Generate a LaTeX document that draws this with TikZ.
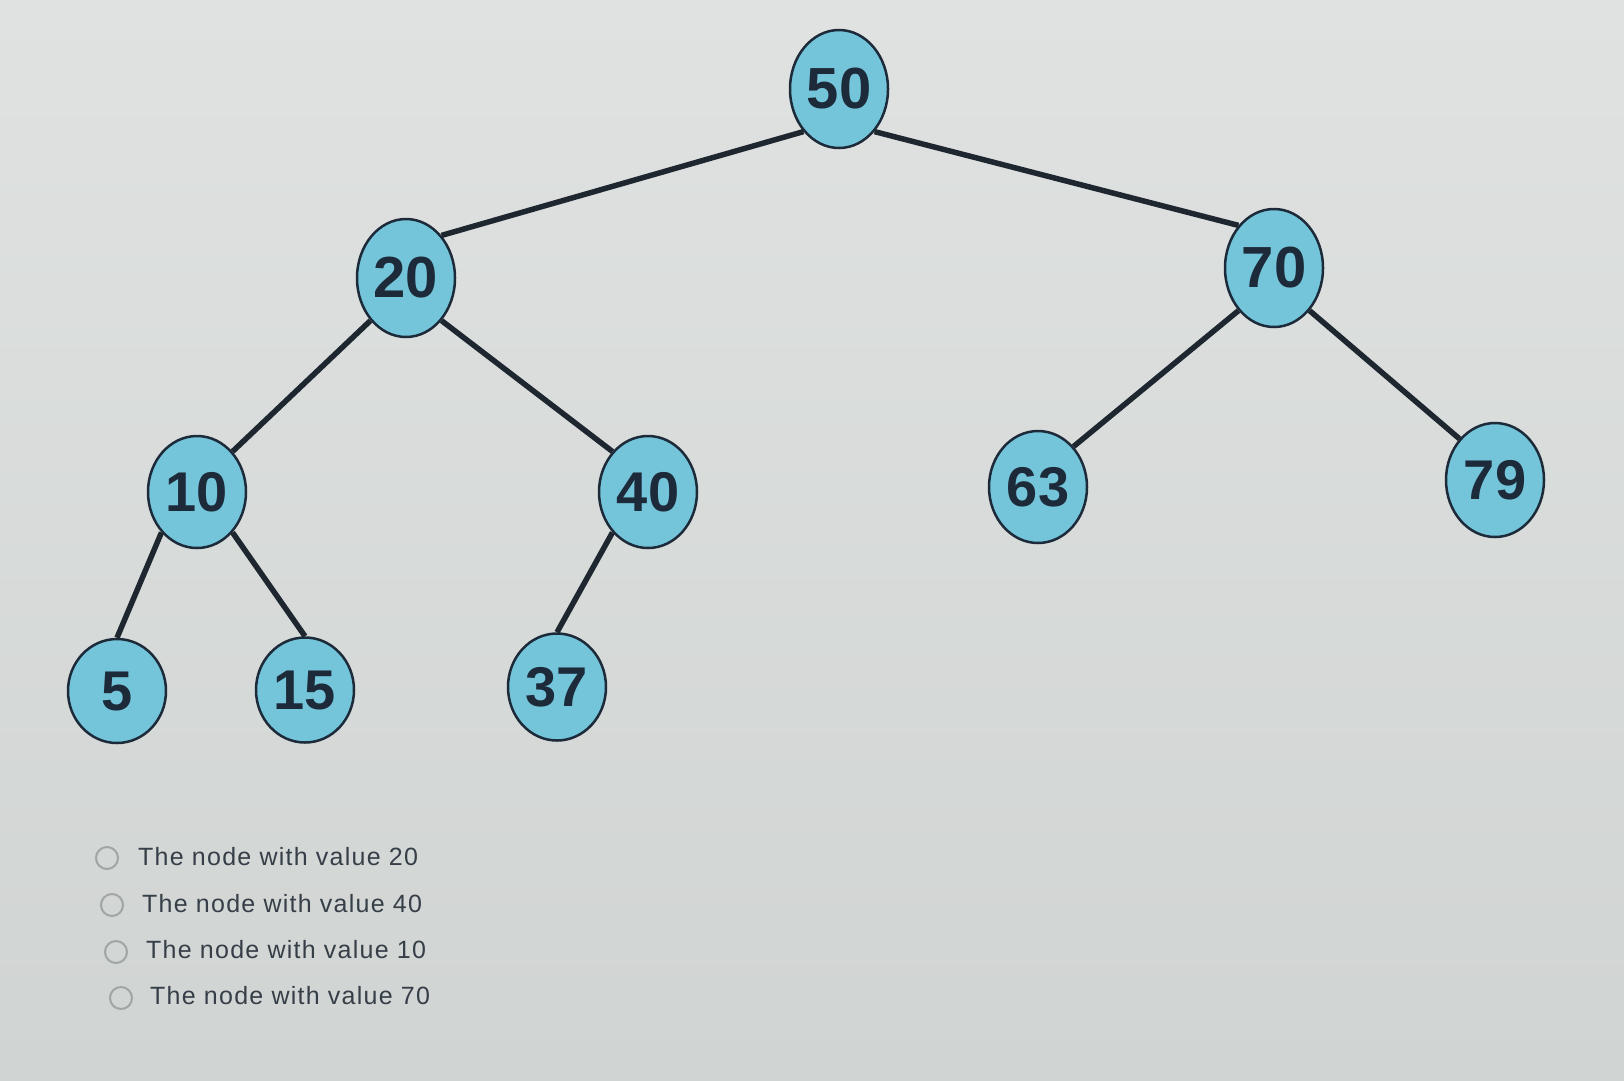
\documentclass[tikz,border=0pt]{standalone}
\usepackage{fontspec}
\setmainfont{Liberation Sans}
\newfontfamily\ansfont[LetterSpace=5]{Liberation Sans}
\usetikzlibrary{shapes.geometric}
\definecolor{bgtop}{HTML}{DFE2E0}
\definecolor{bgbot}{HTML}{D0D4D2}
\definecolor{nodefill}{HTML}{74C5DA}
\definecolor{nodeline}{HTML}{1C2A3A}
\definecolor{edgecol}{HTML}{1E2630}
\definecolor{txtcol}{HTML}{363E48}
\definecolor{radiocol}{HTML}{A0A5A5}
\tikzset{
  treenode/.style={ellipse, draw=nodeline, line width=2.5pt, fill=nodefill,
    minimum width=98pt, minimum height=112pt, inner sep=0pt,
    font=\fontsize{56}{56}\selectfont\bfseries, text=nodeline},
  bignode/.style={treenode, minimum height=118pt, font=\fontsize{58}{58}\selectfont\bfseries},
  edge/.style={draw=edgecol, line width=5.5pt},
  answer/.style={anchor=base west, inner sep=0pt, text=txtcol,
    font=\ansfont\fontsize{25}{25}\selectfont},
  radio/.style={circle, draw=radiocol, line width=2pt, minimum size=22pt, inner sep=0pt}
}
\begin{document}
\begin{tikzpicture}[x=1pt,y=-1pt]
\useasboundingbox (0,0) rectangle (1624,1080);
\shade[top color=bgtop, bottom color=bgbot] (0,0) rectangle (1624,1080);

\node[bignode] (n50) at (839,89) {50};
\node[bignode] (n20) at (406,278) {20};
\node[bignode] (n70) at (1274,268) {70};
\node[treenode] (n10) at (197,492) {10};
\node[treenode] (n40) at (648,492) {40};
\node[treenode] (n63) at (1038,487) {63};
\node[treenode, minimum height=114pt] (n79) at (1495,480) {79};
\node[treenode, minimum height=104pt] (n5) at (117,691) {5};
\node[treenode, minimum height=105pt] (n15) at (305,690) {15};
\node[treenode, minimum height=107pt] (n37) at (557,687) {37};

\draw[edge] (n50.south west) -- (n20.north east);
\draw[edge] (n50.south east) -- (n70.north west);
\draw[edge] (n20.south west) -- (n10.north east);
\draw[edge] (n20.south east) -- (n40.north west);
\draw[edge] (n70.south west) -- (n63.north east);
\draw[edge] (n70.south east) -- (n79.north west);
\draw[edge] (n10.south west) -- (n5.north);
\draw[edge] (n10.south east) -- (n15.north);
\draw[edge] (n40.south west) -- (n37.north);

\node[radio] (r1) at (107,858) {};
\node[radio] (r2) at (112,905) {};
\node[radio] (r3) at (116,952) {};
\node[radio] (r4) at (121,998) {};
\node[answer] (a1) at (138,865) {The node with value 20};
\node[answer] (a2) at (142,912) {The node with value 40};
\node[answer] (a3) at (146,958) {The node with value 10};
\node[answer] (a4) at (150,1004) {The node with value 70};
\end{tikzpicture}
\end{document}
